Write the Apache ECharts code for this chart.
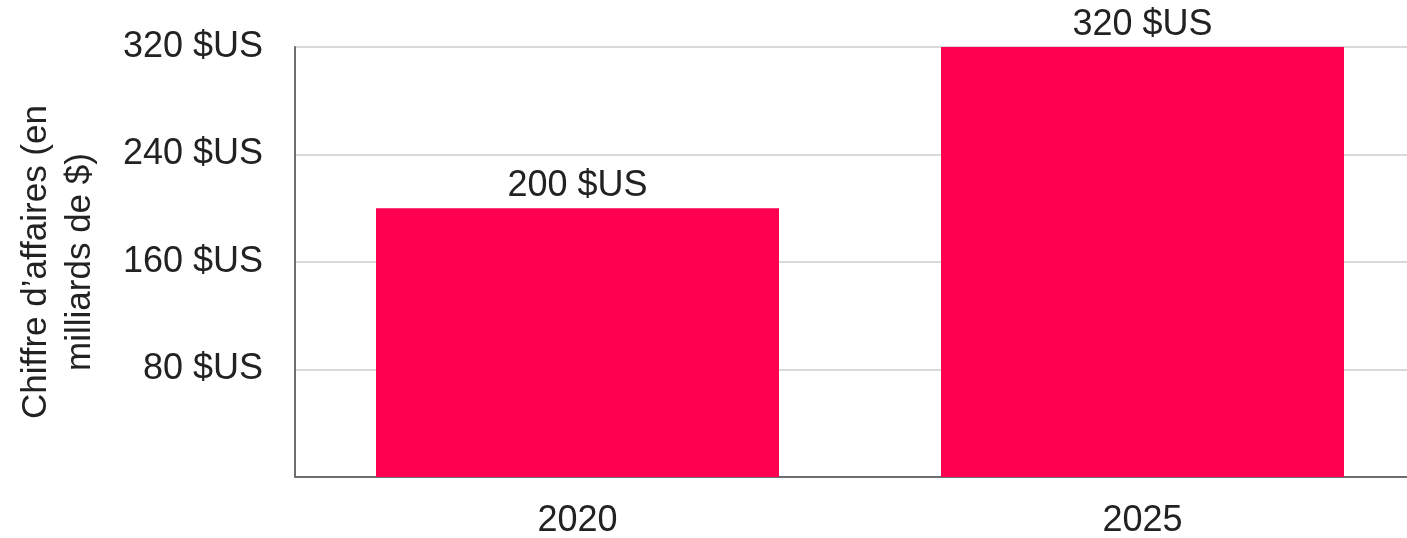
<!DOCTYPE html>
<html>
<head>
<meta charset="utf-8">
<title>Chiffre d'affaires</title>
<script src="https://cdn.jsdelivr.net/npm/echarts@6/dist/echarts.min.js"></script>
<style>
  html, body { margin: 0; padding: 0; background: #fff; }
  #chart { width: 1407px; height: 538px; }
</style>
</head>
<body>
<div id="chart"></div>
<script>
// data
const years = ['2020', '2025'];
const revenue = [200, 320];
const yTicks = [0, 80, 160, 240, 320];

const font = 'Liberation Sans, Arial, Helvetica, sans-serif';
const fmt = v => v + ' $US';

const chart = echarts.init(document.getElementById('chart'));

chart.setOption({
  animation: false,
  grid: {
    left: 295,
    width: 1130, // plot runs past the right edge of the picture
    top: 47,
    bottom: 61,
    outerBoundsMode: 'none'
  },
  xAxis: {
    type: 'category',
    data: years,
    axisLine: { lineStyle: { color: '#6e6e6e', width: 2 } },
    axisTick: { show: false },
    axisLabel: {
      margin: 26,
      color: '#222',
      fontSize: 36,
      fontFamily: font
    }
  },
  yAxis: {
    type: 'value',
    min: yTicks[0],
    max: yTicks[yTicks.length - 1],
    interval: yTicks[1] - yTicks[0],
    name: 'Chiffre d’affaires (en\nmilliards de $)',
    nameLocation: 'middle',
    nameGap: 193,
    nameTextStyle: {
      color: '#222',
      fontSize: 35,
      lineHeight: 44,
      fontFamily: font
    },
    axisLine: { show: true, lineStyle: { color: '#6e6e6e', width: 2 } },
    axisTick: { show: false },
    splitLine: { lineStyle: { color: '#cccccc', width: 1.5 } },
    axisLabel: {
      margin: 32,
      color: '#222',
      fontSize: 36,
      fontFamily: font,
      formatter: v => (v === 0 ? '' : fmt(v))
    }
  },
  series: [{
    type: 'bar',
    data: revenue,
    barWidth: 403,
    itemStyle: { color: '#ff0050' },
    label: {
      show: true,
      position: 'top',
      distance: 4,
      color: '#222',
      fontSize: 36,
      fontFamily: font,
      formatter: p => fmt(p.value)
    }
  }]
});
</script>
</body>
</html>
